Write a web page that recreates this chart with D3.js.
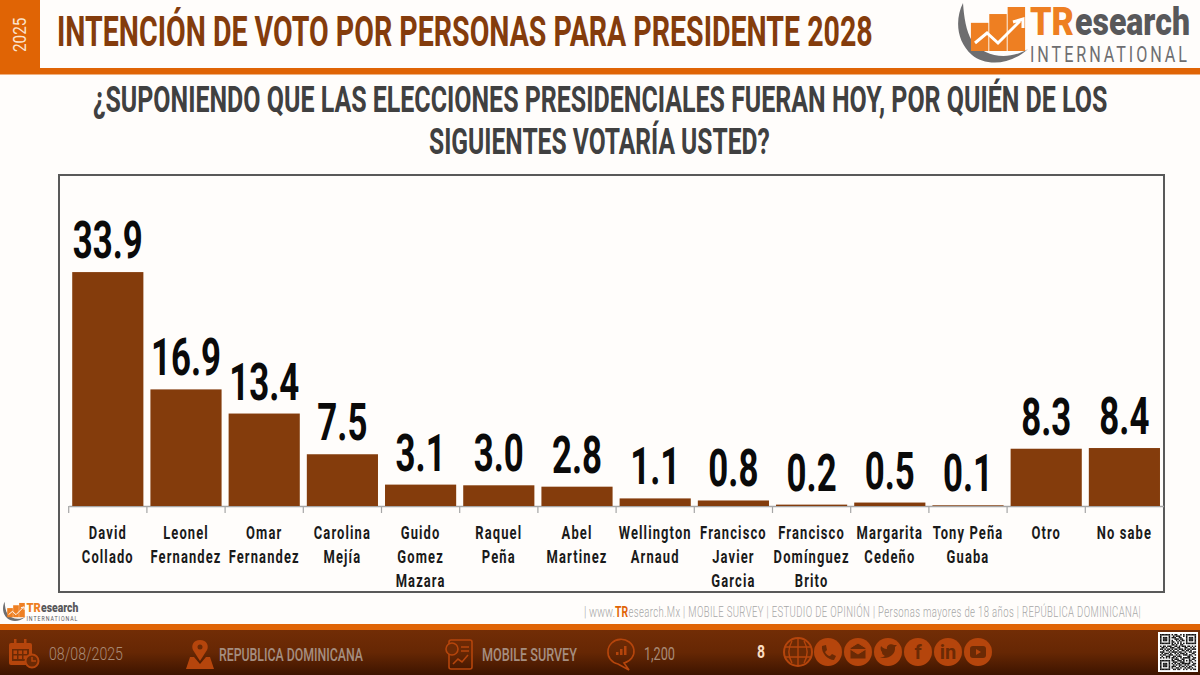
<!DOCTYPE html>
<html>
<head>
<meta charset="utf-8">
<script src="https://cdn.jsdelivr.net/npm/d3@7"></script>
<style>
  html, body { margin: 0; padding: 0; background: #fffdfb; }
  svg { display: block; }
  text { font-family: Roboto, "Liberation Sans", sans-serif; }
</style>
</head>
<body>
<div id="chart-area"></div>
<script>
'use strict';
const svg_width = 1200;
const svg_height = 675;

const categories = ['David\nCollado', 'Leonel\nFernandez', 'Omar\nFernandez', 'Carolina\nMejía',
  'Guido\nGomez\nMazara', 'Raquel\nPeña', 'Abel\nMartinez', 'Wellington\nArnaud',
  'Francisco\nJavier\nGarcia', 'Francisco\nDomínguez\nBrito', 'Margarita\nCedeño',
  'Tony Peña\nGuaba', 'Otro', 'No sabe'];
const values = [33.9, 16.9, 13.4, 7.5, 3.1, 3.0, 2.8, 1.1, 0.8, 0.2, 0.5, 0.1, 8.3, 8.4];
const logo_bars = [0.64, 0.84, 1];
const qr_rows = [
  '1111111010110010101111111', '1000001001011100101000001', '1011101011100110001011101',
  '1011101000111011001011101', '1011101010010101101011101', '1000001011001010001000001',
  '1111111010101010101111111', '0000000011010011000000000', '1011011100110101110110101',
  '0110100111001100011001010', '1101011010110111010110111', '0010110101001001101101000',
  '1110001011110110010011011', '0101110100101011101000110', '1011001110010100111011001',
  '0100111001101110000110100', '1010101011010010111110011', '0000000010111001100010110',
  '1111111011001110101011001', '1000001001110011100010100', '1011101010101101111110011',
  '1011101001010110010100110', '1011101011100101101011001', '1000001010011010010110100',
  '1111111001101100101001011'];

const orange = '#e06405';
const brown = '#843c0c';

const svg = d3.select('#chart-area').append('svg')
  .attr('width', svg_width)
  .attr('height', svg_height);

const defs = svg.append('defs');
const foot_grad = defs.append('linearGradient').attr('id', 'foot').attr('x2', 0).attr('y2', 1);
foot_grad.append('stop').attr('offset', 0).attr('stop-color', '#722d06');
foot_grad.append('stop').attr('offset', 0.5).attr('stop-color', '#662704');
foot_grad.append('stop').attr('offset', 1).attr('stop-color', '#3d1400');

// text squeezed to a measured width, the original face is a heavy condensed one
const fit = (parent, str, x, y, width, size, fill, weight = 700, spacing = 0) => {
  const t = parent.append('text')
    .attr('font-size', size)
    .attr('font-weight', weight)
    .attr('letter-spacing', spacing)
    .attr('fill', fill)
    .text(str);
  const k = width / t.node().getComputedTextLength();
  t.attr('transform', `translate(${x},${y}) scale(${k},1)`);
  return t;
};

/* ---------- header ---------- */
svg.append('rect').attr('width', 40).attr('height', 70).attr('fill', orange);
svg.append('rect').attr('y', 68).attr('width', svg_width).attr('height', 6.5).attr('fill', orange);
svg.append('text')
  .attr('transform', 'translate(26,52) rotate(-90) scale(0.85,1)')
  .attr('font-size', 18).attr('fill', '#fbe3cf')
  .text('2025');
fit(svg, 'INTENCIÓN DE VOTO POR PERSONAS PARA PRESIDENTE 2028', 57, 46, 816, 43, brown);
fit(svg, '¿SUPONIENDO QUE LAS ELECCIONES PRESIDENCIALES FUERAN HOY, POR QUIÉN DE LOS', 93, 112, 1015, 37, '#404040');
fit(svg, 'SIGUIENTES VOTARÍA USTED?', 429, 154, 341, 37, '#404040');

/* ---------- chart ---------- */
svg.append('rect')
  .attr('x', 59).attr('y', 175).attr('width', 1105).attr('height', 417)
  .attr('fill', 'none').attr('stroke', '#595959').attr('stroke-width', 2);

const x_scale = d3.scaleBand()
  .domain(categories)
  .range([68.7, 1163.5])
  .paddingInner(0.09)
  .paddingOuter(0.045);
const y_scale = d3.scaleLinear().domain([0, 40]).range([506, 230]);

const x_axis = d3.axisBottom(x_scale).tickSize(0).tickFormat('');
const axis_g = svg.append('g')
  .attr('transform', `translate(0,${y_scale(0)})`)
  .call(x_axis);
axis_g.select('.domain').attr('stroke', '#a6a6a6').attr('stroke-width', 1.5);
axis_g.selectAll('.tick').remove();
axis_g.selectAll('line.edge').data(categories).enter()
  .append('line')
    .attr('class', 'edge')
    .attr('x1', d => x_scale(d) - x_scale.step() * 0.045)
    .attr('x2', d => x_scale(d) - x_scale.step() * 0.045)
    .attr('y2', 7)
    .attr('stroke', '#a6a6a6')
    .attr('stroke-width', 1.2);

svg.selectAll('rect.bar').data(categories).enter()
  .append('rect')
    .attr('class', 'bar')
    .attr('x', d => x_scale(d))
    .attr('y', (d, i) => y_scale(values[i]))
    .attr('width', x_scale.bandwidth())
    .attr('height', (d, i) => y_scale(0) - y_scale(values[i]))
    .attr('fill', brown);

svg.selectAll('text.value').data(values).enter()
  .append('text')
    .attr('class', 'value')
    .attr('transform', (d, i) =>
      `translate(${x_scale(categories[i]) + x_scale.bandwidth() / 2},${y_scale(d) - 14}) scale(0.67,1)`)
    .attr('text-anchor', 'middle')
    .attr('font-size', 52)
    .attr('font-weight', 700)
    .attr('fill', '#0a0a0a')
    .text(d => d.toFixed(1));

const cat_g = svg.selectAll('g.cat').data(categories).enter()
  .append('g')
    .attr('class', 'cat')
    .attr('transform', d => `translate(${x_scale(d) + x_scale.bandwidth() / 2},0)`);
cat_g.selectAll('text').data(d => d.split('\n')).enter()
  .append('text')
    .attr('transform', (d, i) => `translate(0,${539 + i * 24}) scale(0.7,1)`)
    .attr('text-anchor', 'middle')
    .attr('font-size', 18.5)
    .attr('font-weight', 700)
    .attr('letter-spacing', 1.6)
    .attr('fill', '#1a1a1a')
    .text(d => d);

/* ---------- logo, used three times ---------- */
const draw_logo = (x, y, k, word_fill, line_fill) => {
  const g = svg.append('g').attr('transform', `translate(${x},${y}) scale(${k})`);
  g.append('path')
    .attr('d', 'M5,2 C-3,18 -2,40 14,54 C26,64 50,66 70,48 C50,60 26,56 14,40 C8,30 6,16 5,2 Z')
    .attr('fill', '#6e6e70');
  const bar_x = d3.scaleBand().domain(d3.range(logo_bars.length)).range([12, 68]).padding(0.05);
  const bar_y = d3.scaleLinear().domain([0, 1]).range([50, 6]);
  g.selectAll('rect').data(logo_bars).enter()
    .append('rect')
      .attr('x', (d, i) => bar_x(i))
      .attr('y', d => bar_y(d))
      .attr('width', bar_x.bandwidth())
      .attr('height', d => 50 - bar_y(d))
      .attr('fill', '#ee7f22');
  g.append('path')
    .attr('d', 'M17,42 L29,32 L40,42 L62,20 M55,21 L65,18 L65,27')
    .attr('fill', 'none').attr('stroke', '#fff').attr('stroke-width', 3);
  fit(g, 'TR', 72, 34, 44, 39, '#ee7f22', 900);
  fit(g, 'esearch', 117, 34, 115, 39, word_fill, 900);
  fit(g, 'INTERNATIONAL', 72, 61, 160, 22, line_fill, 400, 4);
};
draw_logo(958, 1, 1, '#58585a', '#6e6e70');
draw_logo(3, 601, 0.325, '#58585a', '#58585a');
draw_logo(1005, 630, 0.62, '#5d4a40', '#9a9a9a');

/* ---------- note line above the footer ---------- */
fit(svg, '| www.', 584, 617, 31, 15, '#a6a6a6', 300);
fit(svg, 'TR', 615, 617, 13, 15, orange, 700);
fit(svg, 'esearch.Mx | MOBILE SURVEY | ESTUDIO DE OPINIÓN | Personas mayores de 18 años | REPÚBLICA DOMINICANA|',
  628.5, 617, 513, 15, '#a6a6a6', 300, 0.6);

/* ---------- footer ---------- */
svg.append('rect').attr('y', 624).attr('width', svg_width).attr('height', 7).attr('fill', orange);
svg.append('rect').attr('y', 630).attr('width', svg_width).attr('height', 45).attr('fill', 'url(#foot)');

fit(svg, '08/08/2025', 49, 660, 74, 18, '#a98b77', 300);
fit(svg, 'REPUBLICA DOMINICANA', 219, 661, 144, 19, '#a58e80', 500);
fit(svg, 'MOBILE SURVEY', 482, 661, 95, 19, '#a58e80', 500);
fit(svg, '1,200', 644, 660, 31, 18, '#a98b77', 400);
fit(svg, '8', 757, 658, 8, 18, '#fbdcc2', 700);

const icon = '#b5450c';
const dark = '#6b2a05';
// calendar
const cal = svg.append('g').attr('transform', 'translate(9,639)');
cal.append('rect').attr('y', 4).attr('width', 23).attr('height', 22).attr('rx', 2).attr('fill', icon);
cal.append('rect').attr('x', 3).attr('y', 10).attr('width', 17).attr('height', 12).attr('fill', dark);
cal.selectAll('rect.day').data(d3.range(6)).enter().append('rect')
  .attr('class', 'day')
  .attr('x', d => 4.5 + (d % 3) * 5).attr('y', d => 11.5 + Math.floor(d / 3) * 5)
  .attr('width', 3.5).attr('height', 3.5).attr('fill', icon);
cal.selectAll('rect.ring').data([5, 15]).enter().append('rect')
  .attr('class', 'ring').attr('x', d => d).attr('y', 0).attr('width', 2.5).attr('height', 6).attr('fill', icon);
cal.append('circle').attr('cx', 23).attr('cy', 22).attr('r', 6.5).attr('fill', dark).attr('stroke', icon).attr('stroke-width', 2);
cal.append('path').attr('d', 'M23,18 V22 H27').attr('fill', 'none').attr('stroke', icon).attr('stroke-width', 1.5);
// map pin
const pin = svg.append('g').attr('transform', 'translate(186,640)');
pin.append('path').attr('d', 'M14,0 C7,0 5,6 7,10 L14,21 L21,10 C23,6 21,0 14,0 Z').attr('fill', icon);
pin.append('circle').attr('cx', 14).attr('cy', 7).attr('r', 2.5).attr('fill', dark);
pin.append('path').attr('d', 'M4,17 L8,17 L14,24 L20,17 L24,17 L28,29 L0,29 Z').attr('fill', icon);
// report sheet
const sheet = svg.append('g').attr('transform', 'translate(445,640)');
sheet.append('rect').attr('x', 4).attr('y', 0).attr('width', 23).attr('height', 29).attr('rx', 2)
  .attr('fill', 'none').attr('stroke', icon).attr('stroke-width', 1.6);
sheet.append('circle').attr('cx', 7).attr('cy', 9).attr('r', 6).attr('fill', dark).attr('stroke', icon).attr('stroke-width', 1.6);
sheet.append('path').attr('d', 'M8,24 L13,19 L17,22 L23,15').attr('fill', 'none').attr('stroke', icon).attr('stroke-width', 1.6);
sheet.append('path').attr('d', 'M16,7 H24 M16,11 H24').attr('stroke', icon).attr('stroke-width', 1.4);
// speech bubble
const bub = svg.append('g').attr('transform', 'translate(621,651)');
bub.append('path').attr('d', 'M-13,0 A13,12 0 1 1 3,12 L8,19 L-3,13 A13,12 0 0 1 -13,0 Z')
  .attr('fill', 'none').attr('stroke', icon).attr('stroke-width', 1.6);
bub.selectAll('rect').data([3, 6, 9]).enter().append('rect')
  .attr('x', (d, i) => -5 + i * 4).attr('y', d => 4 - d).attr('width', 2.5).attr('height', d => d).attr('fill', icon);

// contact row
const social = ['', '', '', '', 'f', 'in', ''];
const social_x = d3.scalePoint().domain(d3.range(social.length)).range([798, 978]);
const soc_g = svg.selectAll('g.soc').data(social).enter()
  .append('g')
    .attr('class', 'soc')
    .attr('transform', (d, i) => `translate(${social_x(i)},652)`);
soc_g.append('circle').attr('r', 14).attr('fill', icon);
soc_g.filter(d => d !== '').append('text')
  .attr('y', 7).attr('text-anchor', 'middle').attr('font-size', 20).attr('font-weight', 700)
  .attr('fill', dark).text(d => d);
const soc_at = i => d3.select(soc_g.nodes()[i]);
soc_at(0).select('circle').attr('fill', dark).attr('stroke', icon).attr('stroke-width', 2);
soc_at(0).append('path').attr('d', 'M-13,-5 H13 M-13,5 H13 M0,-13 V13 M-6,-11 C-10,-4 -10,4 -6,11 M6,-11 C10,-4 10,4 6,11')
  .attr('fill', 'none').attr('stroke', icon).attr('stroke-width', 1.4);
soc_at(1).append('path').attr('d', 'M-6,-6 L-2,-7 L-1,-2 L-3,0 C-2,2 0,4 2,4 L4,2 L8,4 L6,8 C0,8 -7,1 -6,-6 Z').attr('fill', dark);
soc_at(2).append('path').attr('d', 'M-8,-4 L0,-9 L8,-4 V7 H-8 Z M-8,-3 L0,2 L8,-3').attr('fill', dark).attr('stroke', icon);
soc_at(3).append('path').attr('d', 'M-8,5 C-2,8 8,4 7,-5 L9,-7 L6,-7 C3,-9 -2,-7 -1,-3 C-4,-3 -6,-5 -7,-6 C-8,-3 -7,-1 -6,0 C-6,3 -4,3 -3,4 C-4,5 -6,5 -8,5 Z').attr('fill', dark);
soc_at(6).append('rect').attr('x', -8).attr('y', -6).attr('width', 16).attr('height', 12).attr('rx', 3).attr('fill', dark);
soc_at(6).append('path').attr('d', 'M-2,-3 L3,0 L-2,3 Z').attr('fill', icon);

// QR block
svg.append('rect').attr('x', 1158).attr('y', 632).attr('width', 40).attr('height', 40).attr('fill', '#fff');
const qr_scale = d3.scaleBand().domain(d3.range(qr_rows.length)).range([1160, 1196]);
const qr_y = d3.scaleBand().domain(d3.range(qr_rows.length)).range([634, 670]);
qr_rows.forEach((row, r) => {
  svg.append('g').selectAll('rect').data(row.split('')).enter()
    .append('rect')
      .attr('x', (d, c) => qr_scale(c))
      .attr('y', qr_y(r))
      .attr('width', qr_scale.bandwidth() + 0.1)
      .attr('height', qr_y.bandwidth() + 0.1)
      .attr('fill', d => (d === '1' ? '#111' : 'none'));
});
</script>
</body>
</html>
